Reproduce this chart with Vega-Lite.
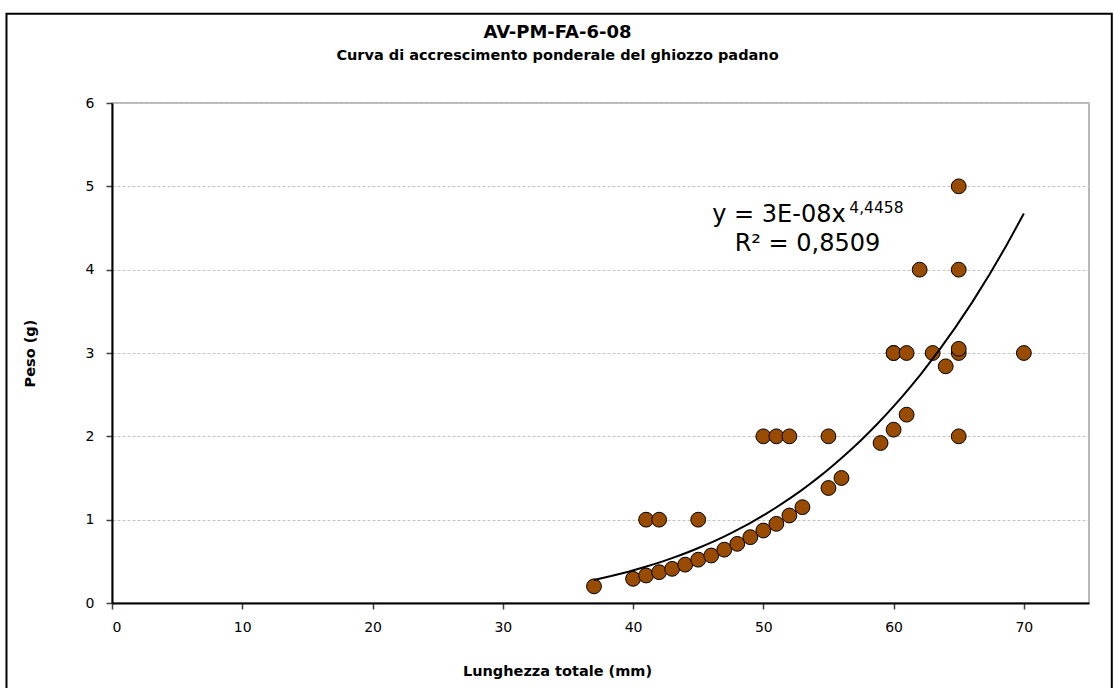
{
  "$schema": "https://vega.github.io/schema/vega-lite/v6.json",
  "autosize": "none",
  "width": 977,
  "height": 500,
  "padding": {"left": 112, "top": 103, "right": 25, "bottom": 85},
  "background": "white",
  "title": {
    "text": "AV-PM-FA-6-08",
    "subtitle": "Curva di accrescimento ponderale del ghiozzo padano",
    "font": "DejaVu Sans",
    "fontSize": 18,
    "fontWeight": "bold",
    "color": "black",
    "subtitleFont": "DejaVu Sans",
    "subtitleFontSize": 14.5,
    "subtitleFontWeight": "bold",
    "subtitleColor": "black",
    "subtitlePadding": 7,
    "anchor": "middle",
    "frame": "group",
    "offset": -50,
    "dx": -43
  },
  "config": {
    "view": {"stroke": "#a0a0a0", "strokeWidth": 1.5},
    "axis": {
      "labelFont": "DejaVu Sans",
      "labelFontSize": 14,
      "labelColor": "black",
      "titleFont": "DejaVu Sans",
      "titleFontSize": 14.5,
      "titleFontWeight": "bold",
      "titleColor": "black",
      "domainColor": "black",
      "domainWidth": 2,
      "tickColor": "#404040",
      "tickWidth": 1.5,
      "tickSize": 6
    }
  },
  "datasets": {
    "fish": [
      {"lunghezza": 37, "peso": 0.2},
      {"lunghezza": 40, "peso": 0.29},
      {"lunghezza": 41, "peso": 0.33},
      {"lunghezza": 42, "peso": 0.37},
      {"lunghezza": 43, "peso": 0.41},
      {"lunghezza": 44, "peso": 0.46},
      {"lunghezza": 45, "peso": 0.52},
      {"lunghezza": 46, "peso": 0.57},
      {"lunghezza": 47, "peso": 0.64},
      {"lunghezza": 48, "peso": 0.71},
      {"lunghezza": 49, "peso": 0.79},
      {"lunghezza": 50, "peso": 0.87},
      {"lunghezza": 51, "peso": 0.95},
      {"lunghezza": 52, "peso": 1.05},
      {"lunghezza": 53, "peso": 1.15},
      {"lunghezza": 55, "peso": 1.38},
      {"lunghezza": 56, "peso": 1.5},
      {"lunghezza": 59, "peso": 1.92},
      {"lunghezza": 60, "peso": 2.08},
      {"lunghezza": 61, "peso": 2.26},
      {"lunghezza": 64, "peso": 2.84},
      {"lunghezza": 41, "peso": 1},
      {"lunghezza": 42, "peso": 1},
      {"lunghezza": 45, "peso": 1},
      {"lunghezza": 50, "peso": 2},
      {"lunghezza": 51, "peso": 2},
      {"lunghezza": 52, "peso": 2},
      {"lunghezza": 55, "peso": 2},
      {"lunghezza": 65, "peso": 2},
      {"lunghezza": 60, "peso": 3},
      {"lunghezza": 60, "peso": 3},
      {"lunghezza": 61, "peso": 3},
      {"lunghezza": 63, "peso": 3},
      {"lunghezza": 65, "peso": 3},
      {"lunghezza": 65, "peso": 3.05},
      {"lunghezza": 70, "peso": 3},
      {"lunghezza": 62, "peso": 4},
      {"lunghezza": 65, "peso": 4},
      {"lunghezza": 65, "peso": 5}
    ],
    "eq1": [{"t": "y = 3E-08x"}],
    "eq2": [{"t": "4,4458"}],
    "eq3": [{"t": "R² = 0,8509"}],
    "frame": [{"name": "frame"}]
  },
  "data": {"name": "fish"},
  "layer": [
    {
      "mark": {"type": "circle", "size": 220, "fill": "#994C00", "stroke": "black", "strokeWidth": 1, "opacity": 1},
      "encoding": {
        "x": {
          "field": "lunghezza",
          "type": "quantitative",
          "scale": {"domain": [0, 75], "nice": false, "zero": true},
          "axis": {
            "title": "Lunghezza totale (mm)",
            "values": [0, 10, 20, 30, 40, 50, 60, 70],
            "format": "d",
            "grid": false,
            "labelPadding": 11,
            "titlePadding": 30,
            "titleX": 445
          }
        },
        "y": {
          "field": "peso",
          "type": "quantitative",
          "scale": {"domain": [0, 6], "nice": false},
          "axis": {
            "title": "Peso (g)",
            "values": [0, 1, 2, 3, 4, 5, 6],
            "format": "d",
            "grid": true,
            "gridColor": "#c4c4c4",
            "gridDash": [3, 2],
            "gridWidth": 1,
            "labelPadding": 12,
            "titlePadding": 48
          }
        }
      }
    },
    {
      "transform": [
        {"regression": "peso", "on": "lunghezza", "method": "pow", "extent": [37, 70]}
      ],
      "mark": {"type": "line", "color": "black", "strokeWidth": 2},
      "encoding": {
        "x": {"field": "lunghezza", "type": "quantitative"},
        "y": {"field": "peso", "type": "quantitative"}
      }
    },
    {
      "data": {"name": "eq1"},
      "mark": {"type": "text", "align": "left", "baseline": "alphabetic", "font": "DejaVu Sans", "fontSize": 24, "color": "black"},
      "encoding": {"text": {"field": "t"}, "x": {"datum": 46.08, "type": "quantitative"}, "y": {"datum": 4.567, "type": "quantitative"}}
    },
    {
      "data": {"name": "eq2"},
      "mark": {"type": "text", "align": "left", "baseline": "alphabetic", "font": "DejaVu Sans", "fontSize": 15.5, "color": "black"},
      "encoding": {"text": {"field": "t"}, "x": {"datum": 56.6, "type": "quantitative"}, "y": {"datum": 4.68, "type": "quantitative"}}
    },
    {
      "data": {"name": "eq3"},
      "mark": {"type": "text", "align": "left", "baseline": "alphabetic", "font": "DejaVu Sans", "fontSize": 24, "color": "black"},
      "encoding": {"text": {"field": "t"}, "x": {"datum": 47.8, "type": "quantitative"}, "y": {"datum": 4.228, "type": "quantitative"}}
    },
    {
      "data": {"name": "frame"},
      "mark": {"type": "rect", "fillOpacity": 0, "stroke": "black", "strokeWidth": 2, "clip": false},
      "encoding": {
        "x": {"datum": -8.1, "type": "quantitative"},
        "x2": {"datum": 76.75},
        "y": {"datum": 7.07, "type": "quantitative"},
        "y2": {"datum": -1.2}
      }
    }
  ]
}
